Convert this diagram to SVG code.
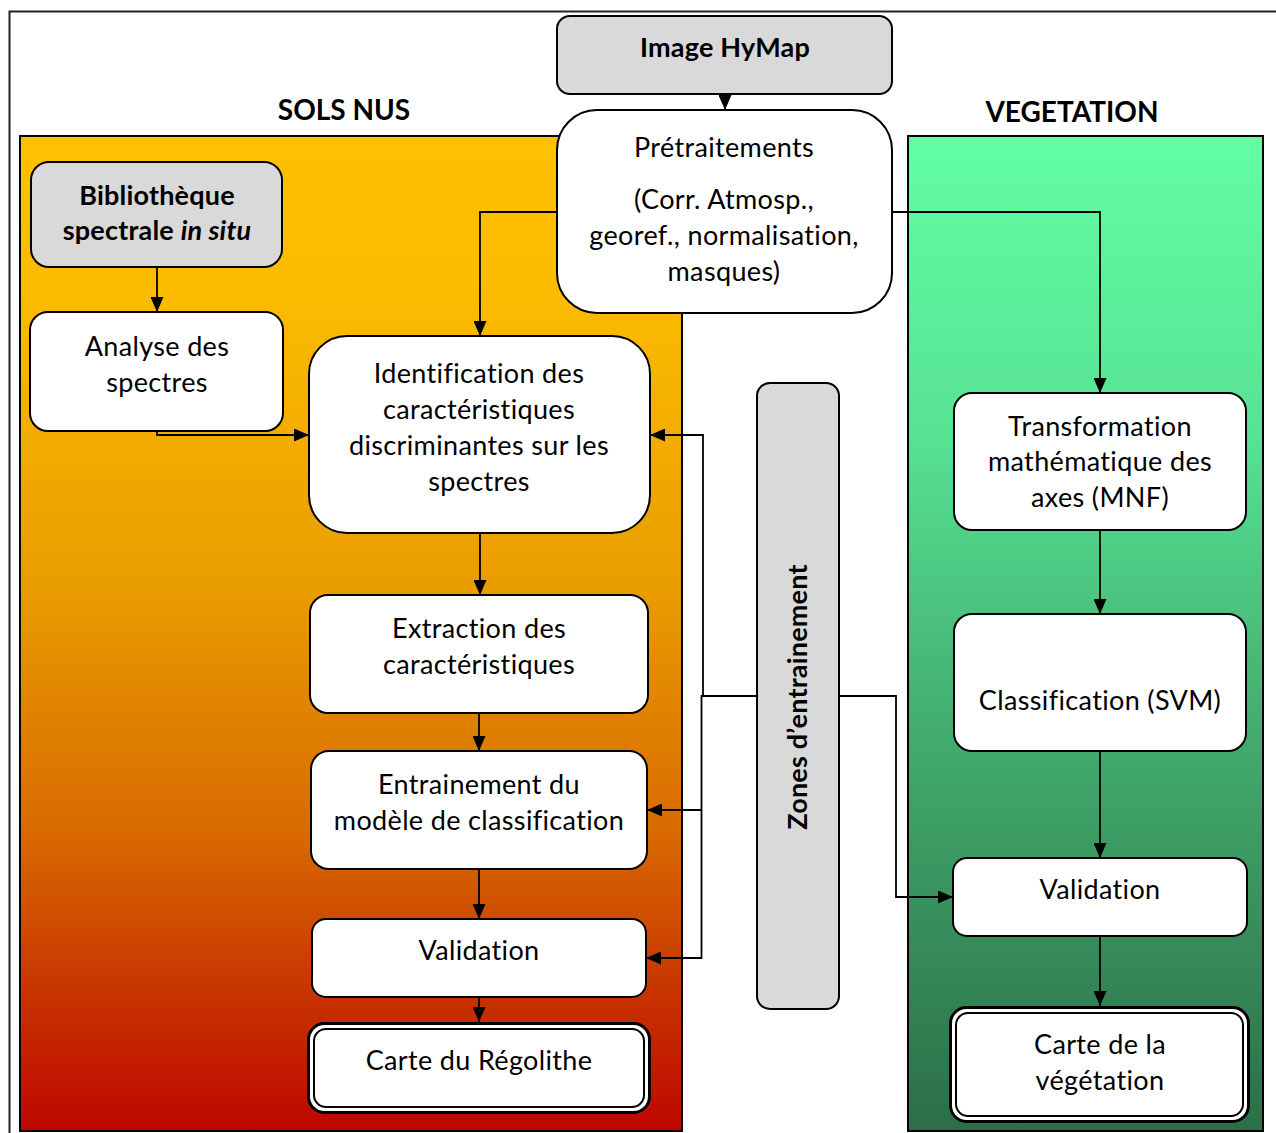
<svg xmlns="http://www.w3.org/2000/svg" width="1276" height="1133" viewBox="0 0 1276 1133">
<style>
.box{fill:#fff;stroke:#000;stroke-width:2}
.grey{fill:#d9d9d9;stroke:#000;stroke-width:2}
.t{font-family:Lato,"Liberation Sans",sans-serif;font-size:27px;letter-spacing:0.35px;fill:#000;text-anchor:middle}
.b{font-weight:bold;letter-spacing:0.2px}
.ttl{font-family:Lato,"Liberation Sans",sans-serif;font-size:28px;font-weight:bold;fill:#000;text-anchor:middle}
.c{fill:none;stroke:#000;stroke-width:1.8}
</style>
<defs>
<linearGradient id="gOr" x1="0" y1="0" x2="0" y2="1">
<stop offset="0" stop-color="#FFC000"/>
<stop offset="0.165" stop-color="#FBBB00"/>
<stop offset="0.456" stop-color="#E99C00"/>
<stop offset="0.70" stop-color="#D86A00"/>
<stop offset="0.85" stop-color="#C83800"/>
<stop offset="1" stop-color="#BE0600"/>
</linearGradient>
<linearGradient id="gGr" x1="0" y1="0" x2="0" y2="1">
<stop offset="0" stop-color="#62FEA2"/>
<stop offset="0.3" stop-color="#57E294"/>
<stop offset="0.6" stop-color="#42AC6E"/>
<stop offset="1" stop-color="#2C6E47"/>
</linearGradient>
<marker id="ar" viewBox="0 0 15 13" refX="15" refY="6.5" markerWidth="15" markerHeight="13" markerUnits="userSpaceOnUse" orient="auto">
<path d="M0,0 L15,6.5 L0,13 z" fill="#000"/>
</marker>
</defs>
<rect width="1276" height="1133" fill="#fff"/>
<g id="frame">
<path d="M9.5,1133 V11.5 H1276" fill="none" stroke="#222" stroke-width="2"/>
</g>
<g id="sols-nus">
<rect x="20" y="136" width="662" height="995" fill="url(#gOr)" stroke="#000" stroke-width="2"/>
<text class="ttl" x="344" y="120">SOLS NUS</text>
</g>
<g id="vegetation">
<rect x="908" y="136" width="355" height="995" fill="url(#gGr)" stroke="#000" stroke-width="2"/>
<text class="ttl" x="1072" y="122">VEGETATION</text>
</g>
<g id="connectors">
<path class="c" d="M725,94 V110" marker-end="url(#ar)"/>
<path class="c" d="M557,212 H480 V336" marker-end="url(#ar)"/>
<path class="c" d="M892,212 H1100 V393" marker-end="url(#ar)"/>
<path class="c" d="M157,267 V312" marker-end="url(#ar)"/>
<path class="c" d="M157,431 V435 H309" marker-end="url(#ar)"/>
<path class="c" d="M480,533 V595" marker-end="url(#ar)"/>
<path class="c" d="M479,713 V751" marker-end="url(#ar)"/>
<path class="c" d="M479,869 V919" marker-end="url(#ar)"/>
<path class="c" d="M479,997 V1022" marker-end="url(#ar)"/>
<path class="c" d="M757,696 H703 V435 H650" marker-end="url(#ar)"/>
<path class="c" d="M703,696 H701.5 V810 H647" marker-end="url(#ar)"/>
<path class="c" d="M701.5,810 V958 H646" marker-end="url(#ar)"/>
<path class="c" d="M839,696 H896 V897 H953" marker-end="url(#ar)"/>
<path class="c" d="M1100,530 V614" marker-end="url(#ar)"/>
<path class="c" d="M1100,751 V858" marker-end="url(#ar)"/>
<path class="c" d="M1100,936 V1006" marker-end="url(#ar)"/>
</g>
<g id="image-hymap">
<rect class="grey" x="557" y="16" width="335" height="78" rx="13"/>
<text class="t b" x="725" y="57">Image HyMap</text>
</g>
<g id="pretraitements">
<rect class="box" x="557" y="110" width="335" height="203" rx="40"/>
<text class="t" x="724" y="157">Prétraitements</text>
<text class="t" x="724" y="209">(Corr. Atmosp.,</text>
<text class="t" x="724" y="245">georef., normalisation,</text>
<text class="t" x="724" y="281">masques)</text>
</g>
<g id="bibliotheque">
<rect class="grey" x="31" y="162" width="251" height="105" rx="18"/>
<text class="t b" x="157" y="205">Bibliothèque</text>
<text class="t b" x="157" y="240">spectrale <tspan font-style="italic">in situ</tspan></text>
</g>
<g id="analyse">
<rect class="box" x="30" y="312" width="253" height="119" rx="18"/>
<text class="t" x="157" y="356">Analyse des</text>
<text class="t" x="157" y="392">spectres</text>
</g>
<g id="identification">
<rect class="box" x="309" y="336" width="341" height="197" rx="38"/>
<text class="t" x="479" y="383">Identification des</text>
<text class="t" x="479" y="419">caractéristiques</text>
<text class="t" x="479" y="455">discriminantes sur les</text>
<text class="t" x="479" y="491">spectres</text>
</g>
<g id="extraction">
<rect class="box" x="310" y="595" width="338" height="118" rx="18"/>
<text class="t" x="479" y="638">Extraction des</text>
<text class="t" x="479" y="674">caractéristiques</text>
</g>
<g id="entrainement">
<rect class="box" x="311" y="751" width="336" height="118" rx="18"/>
<text class="t" x="479" y="794">Entrainement du</text>
<text class="t" x="479" y="830">modèle de classification</text>
</g>
<g id="validation-sols">
<rect class="box" x="312" y="919" width="334" height="78" rx="14"/>
<text class="t" x="479" y="960">Validation</text>
</g>
<g id="carte-regolithe">
<rect x="308.5" y="1023.5" width="341" height="89" rx="16" fill="#fff" stroke="#000" stroke-width="3"/>
<rect x="314" y="1029" width="330" height="78" rx="12" fill="none" stroke="#000" stroke-width="2"/>
<text class="t" x="479" y="1070">Carte du Régolithe</text>
</g>
<g id="zones">
<rect class="grey" x="757" y="383" width="82" height="626" rx="13"/>
<text class="t b" transform="translate(807,697) rotate(-90)" x="0" y="0">Zones d’entrainement</text>
</g>
<g id="transformation">
<rect class="box" x="954" y="393" width="292" height="137" rx="18"/>
<text class="t" x="1100" y="436">Transformation</text>
<text class="t" x="1100" y="471">mathématique des</text>
<text class="t" x="1100" y="507">axes (MNF)</text>
</g>
<g id="classification">
<rect class="box" x="954" y="614" width="292" height="137" rx="18"/>
<text class="t" x="1100" y="710">Classification (SVM)</text>
</g>
<g id="validation-veg">
<rect class="box" x="953" y="858" width="294" height="78" rx="14"/>
<text class="t" x="1100" y="899">Validation</text>
</g>
<g id="carte-vegetation">
<rect x="950.5" y="1007.5" width="298" height="114" rx="16" fill="#fff" stroke="#000" stroke-width="3"/>
<rect x="956" y="1013" width="287" height="103" rx="12" fill="none" stroke="#000" stroke-width="2"/>
<text class="t" x="1100" y="1054">Carte de la</text>
<text class="t" x="1100" y="1090">végétation</text>
</g>
</svg>
